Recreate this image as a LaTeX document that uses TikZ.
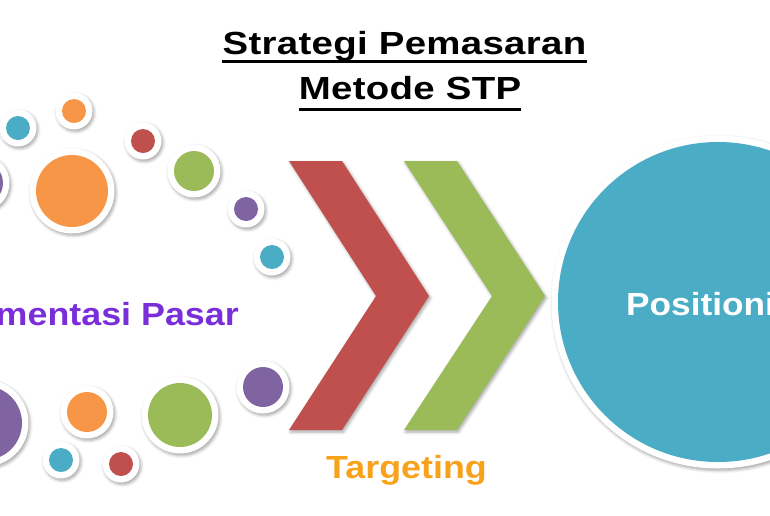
\documentclass[tikz,border=0pt]{standalone}
\usepackage{fontspec}
\setmainfont{Liberation Sans}
\usetikzlibrary{shadows.blur}
\definecolor{cred}{HTML}{C0504D}
\definecolor{cgreen}{HTML}{9BBB59}
\definecolor{ccyan}{HTML}{4BACC6}
\definecolor{cpurple}{HTML}{8064A2}
\definecolor{corange}{HTML}{F79646}
\definecolor{tpurple}{RGB}{122,46,218}
\definecolor{torange}{RGB}{248,162,28}
\newfontfamily\titlefont[FakeStretch=1.2, LetterSpace=1]{Liberation Sans Bold}
\newfontfamily\labelfont[FakeStretch=1.12]{Liberation Sans Bold}
\newfontfamily\posfont[FakeStretch=1.1]{Liberation Sans Bold}
\tikzset{
  softshadow/.style={blur shadow={shadow xshift=1.5pt, shadow yshift=-2pt, shadow blur radius=3pt, shadow opacity=35}},
  ringnode/.style={circle, fill=white, inner sep=0pt, outer sep=0pt, softshadow},
  chev/.style={softshadow},
  titletxt/.style={inner sep=0pt, anchor=base, font=\titlefont\fontsize{32}{36}\selectfont},
  lbl/.style={inner sep=0pt, font=\labelfont\fontsize{32}{36}\selectfont},
  uline/.style={line width=3pt}
}
\newcommand\bubble[4]{%
  \node[ringnode, minimum size=#3*2pt+13pt] (#1) at (#2) {};
  \fill[#4] (#1.center) circle (#3pt);
}
\begin{document}
\begin{tikzpicture}[x=1pt,y=-1pt]
\useasboundingbox (0,0) rectangle (770,515);
% top bubbles
\bubble{c1}{18,128}{12}{ccyan}
\bubble{c2}{74,111}{12}{corange}
\bubble{c3}{-19,183}{22}{cpurple}
\bubble{c4}{72,191}{36}{corange}
\bubble{c5}{143,141}{12}{cred}
\bubble{c6}{194,171}{20}{cgreen}
\bubble{c7}{246,209}{12}{cpurple}
\bubble{c8}{272,257}{12}{ccyan}
% bottom bubbles
\bubble{d1}{-15,423}{37}{cpurple}
\bubble{d2}{87,412}{20}{corange}
\bubble{d3}{61,460}{12}{ccyan}
\bubble{d4}{121,464}{12}{cred}
\bubble{d5}{180,415}{32}{cgreen}
\bubble{d6}{263,387}{20}{cpurple}
% chevrons
\fill[cred, chev] (289,161) -- (342,161) -- (429,296) -- (342,430) -- (289,430) -- (376,296) -- cycle;
\fill[cgreen, chev] (404,161) -- (457,161) -- (545,296) -- (457,430) -- (404,430) -- (492,296) -- cycle;
% big circle
\bubble{pos}{718,302}{160}{ccyan}
% title
\node[titletxt] (t1) at (404.5,54) {Strategi Pemasaran};
\node[titletxt] (t2) at (410,99) {Metode STP};
\draw[uline] ([yshift=-7pt]t1.base west) -- ([yshift=-7pt]t1.base east);
\draw[uline] ([yshift=-10pt]t2.base west) -- ([yshift=-10pt]t2.base east);
% labels
\node[lbl, anchor=base east, text=tpurple] (seg) at (239,325) {Segmentasi Pasar};
\node[lbl, anchor=base west, text=torange] (tgt) at (326,478) {Targeting};
\node[lbl, anchor=base west, text=white, font=\posfont\fontsize{32}{36}\selectfont] (pst) at (626,315) {Positioning};
\end{tikzpicture}
\end{document}
